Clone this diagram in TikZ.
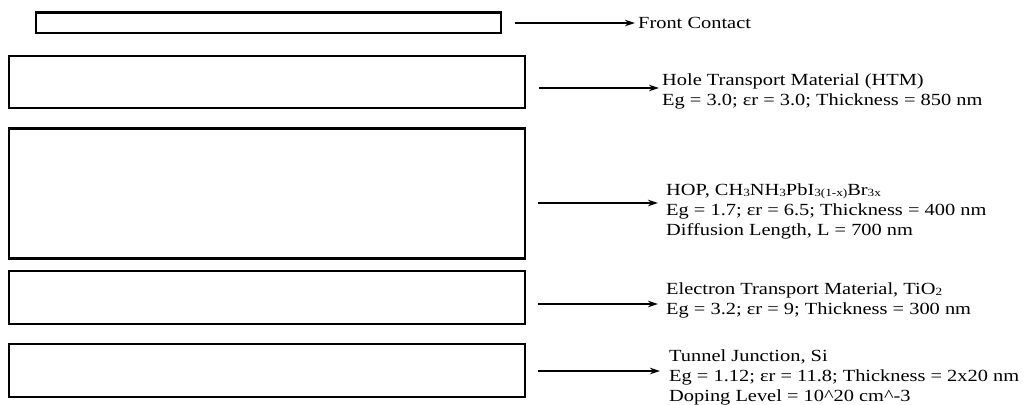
\documentclass[tikz,border=0pt]{standalone}
\usepackage{fontspec}
\setmainfont{Liberation Serif}[FakeStretch=1.2]
\usetikzlibrary{arrows.meta}
\newcommand{\sbs}[1]{\raisebox{-0.15ex}{\fontsize{11}{11}\selectfont #1}}
\begin{document}
\begin{tikzpicture}[x=1pt,y=-1pt,
  layer/.style={draw=black, line width=2.8pt, inner sep=0pt, outer sep=0pt, fill=white},
  arr/.style={line width=1.4pt, -{Stealth[length=10pt,width=6.5pt]}},
  lbl/.style={anchor=base west, inner sep=0pt, font=\fontsize{17}{20}\selectfont}]
\useasboundingbox (0,0) rectangle (1024,404);
\fill[white] (0,0) rectangle (1024,404);
% layers
\node[layer, minimum width=465pt, minimum height=20.5pt] (fc) at (268.5,22.75) {};
\node[layer, minimum width=516pt, minimum height=52pt] (htm) at (267,82) {};
\node[layer, minimum width=516pt, minimum height=129.5pt] (hop) at (267,193.5) {};
\node[layer, minimum width=516pt, minimum height=53pt] (etm) at (267,297.5) {};
\node[layer, minimum width=516pt, minimum height=53pt] (tj) at (267,370.5) {};
% labels
\node[lbl] (tfc) at (638,29) {Front Contact};
\node[lbl] (thtm) at (662,85) {\begin{tabular}[t]{@{}l@{}}Hole Transport Material (HTM)\\ Eg = 3.0; εr = 3.0; Thickness = 850 nm\end{tabular}};
\node[lbl] (thop) at (666,195) {\begin{tabular}[t]{@{}l@{}}HOP, CH\sbs{3}NH\sbs{3}PbI\sbs{3(1-x)}Br\sbs{3x}\\ Eg = 1.7; εr = 6.5; Thickness = 400 nm\\ Diffusion Length, L = 700 nm\end{tabular}};
\node[lbl] (tetm) at (666,294) {\begin{tabular}[t]{@{}l@{}}Electron Transport Material, TiO\sbs{2}\\ Eg = 3.2; εr = 9; Thickness = 300 nm\end{tabular}};
\node[lbl] (ttj) at (669,361) {\begin{tabular}[t]{@{}l@{}}Tunnel Junction, Si\\ Eg = 1.12; εr = 11.8; Thickness = 2x20 nm\\ Doping Level = 10\textasciicircum 20 cm\textasciicircum -3\end{tabular}};
% arrow ends
\coordinate (s1) at (515,23);  \coordinate (e1) at (635,23);
\coordinate (s2) at (539,88);  \coordinate (e2) at (659,88);
\coordinate (s3) at (538,203); \coordinate (e3) at (658,203);
\coordinate (s4) at (538,304); \coordinate (e4) at (658,304);
\coordinate (s5) at (538,371); \coordinate (e5) at (660,371);
\draw[arr] (s1) -- (e1);
\draw[arr] (s2) -- (e2);
\draw[arr] (s3) -- (e3);
\draw[arr] (s4) -- (e4);
\draw[arr] (s5) -- (e5);
\end{tikzpicture}
\end{document}
